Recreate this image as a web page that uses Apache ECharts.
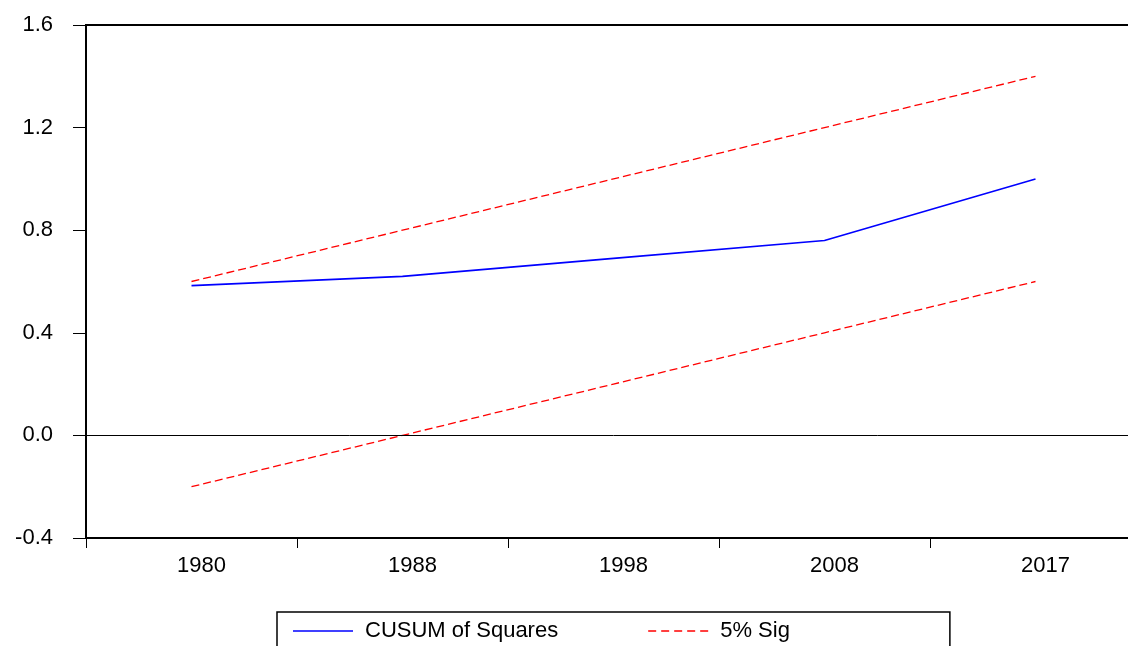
<!DOCTYPE html>
<html>
<head>
<meta charset="utf-8">
<script src="https://cdn.jsdelivr.net/npm/echarts@6/dist/echarts.min.js"></script>
<style>html,body{margin:0;padding:0;background:#fff;overflow:hidden;width:1128px;height:646px;}#c{width:1141px;height:646px;}</style>
</head>
<body>
<div id="c"></div>
<script>
var categories = ['1980', '1988', '1998', '2008', '2017'];
var cusumSq = [0.584, 0.62, 0.69, 0.76, 1.0];
var upper5 = [0.6, 0.8, 1.0, 1.2, 1.4];
var lower5 = [-0.2, 0.0, 0.2, 0.4, 0.6];
var yTicks = { min: -0.4, max: 1.6, interval: 0.4 };

var chart = echarts.init(document.getElementById('c'));
var font = 'Liberation Sans, Arial, sans-serif';
var solidIcon = 'path://M0,0h60v1.6h-60z';
var dashIcon = 'path://M0,0h8v1.6h-8z M13,0h8v1.6h-8z M26,0h8v1.6h-8z M39,0h8v1.6h-8z M52,0h8v1.6h-8z';
chart.setOption({
  animation: false,
  backgroundColor: '#fff',
  grid: { left: 86, right: 0, top: 25, bottom: 108, show: true, borderColor: '#000', borderWidth: 2, backgroundColor: 'transparent' },
  xAxis: {
    type: 'category', data: categories, boundaryGap: true,
    axisLine: { onZero: false, lineStyle: { color: '#000', width: 2 } },
    axisTick: { show: true, interval: 0, length: 10, lineStyle: { color: '#000', width: 1 } },
    axisLabel: { interval: 0, color: '#000', fontSize: 22, fontFamily: font, margin: 17, padding: [0, 0, 0, 20] },
    splitLine: { show: false }
  },
  yAxis: {
    type: 'value', min: yTicks.min, max: yTicks.max, interval: yTicks.interval,
    axisLine: { show: true, lineStyle: { color: '#000', width: 2 } },
    axisTick: { show: true, length: 13, lineStyle: { color: '#000', width: 1 } },
    axisLabel: { color: '#000', fontSize: 22, fontFamily: font, margin: 33, padding: [0, 0, 10, 0],
      formatter: function (v) { return Math.abs(v) < 1e-9 ? '0.0' : v.toFixed(1); } },
    splitLine: { show: false }
  },
  legend: {
    left: 277, top: 612,
    padding: [8, 160, 30, 16],
    itemGap: 90, itemWidth: 60, itemHeight: 14,
    borderColor: '#000', borderWidth: 1.5,
    textStyle: { color: '#000', fontSize: 22, fontFamily: font, padding: [0, 0, 0, 7] },
    data: [
      { name: 'CUSUM of Squares', icon: solidIcon, itemStyle: { color: '#0000ff' } },
      { name: '5% Sig', icon: dashIcon, itemStyle: { color: '#ff0000' } }
    ]
  },
  series: [
    {
      name: '5% Sig', type: 'line', data: upper5, symbol: 'none', showSymbol: false,
      lineStyle: { color: '#ff0000', width: 1.3, type: [8, 4] }, itemStyle: { color: '#ff0000' }, z: 3
    },
    {
      name: '5% Sig', type: 'line', data: lower5, symbol: 'none', showSymbol: false,
      lineStyle: { color: '#ff0000', width: 1.3, type: [8, 4] }, itemStyle: { color: '#ff0000' }, z: 3
    },
    {
      name: 'CUSUM of Squares', type: 'line', data: cusumSq, symbol: 'none', showSymbol: false,
      lineStyle: { color: '#0000ff', width: 1.6 }, itemStyle: { color: '#0000ff' }, z: 4,
      markLine: {
        silent: true, symbol: ['none', 'none'], label: { show: false },
        lineStyle: { color: '#000', width: 1, type: 'solid' },
        data: [{ yAxis: 0 }]
      }
    }
  ]
});
</script>
</body>
</html>
